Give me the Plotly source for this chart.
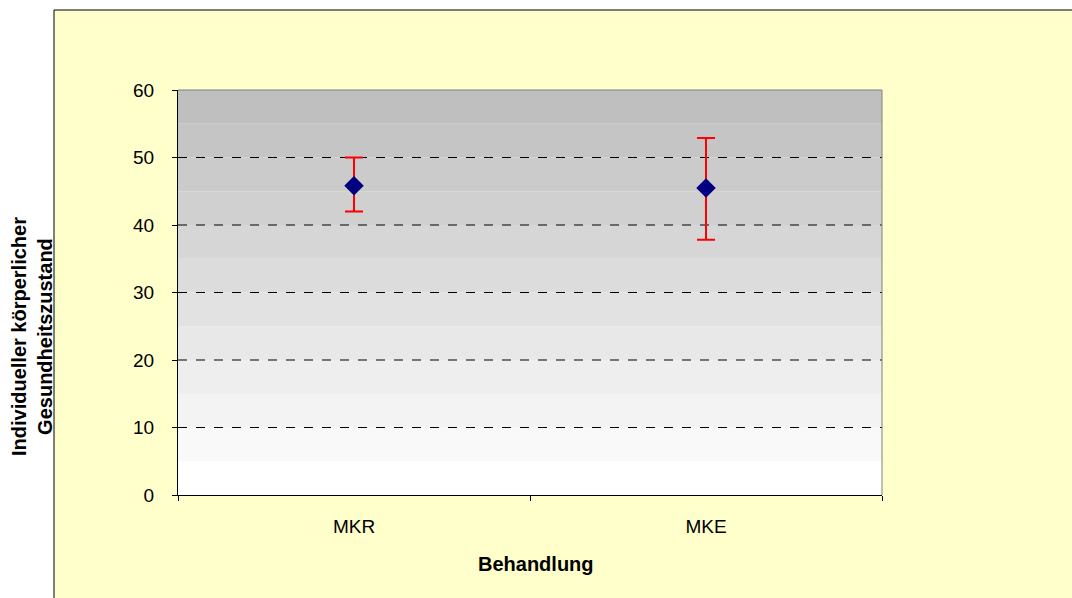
import plotly.graph_objects as go

# Data
categories = ["MKR", "MKE"]
means = [45.8, 45.5]
upper = [50.0, 52.9]
lower = [42.0, 37.8]

y_ticks = [0, 10, 20, 30, 40, 50, 60]

W, H = 1072, 598
L, R, T, B = 178, 882, 90, 495  # plot area in pixels
pw, ph = R - L, B - T
FONT = "Liberation Sans, Arial"

err_plus = [u - m for u, m in zip(upper, means)]
err_minus = [m - l for m, l in zip(means, lower)]

fig = go.Figure()
fig.add_trace(go.Scatter(
    x=categories, y=means, mode="markers",
    marker=dict(symbol="diamond", size=15, color="#000080"),
    error_y=dict(type="data", symmetric=False, array=err_plus, arrayminus=err_minus,
                 color="#ff0000", thickness=2, width=9),
    showlegend=False, hoverinfo="skip",
))

shapes = []
# chart area (yellow) background with border
shapes.append(dict(type="rect", xref="paper", yref="paper", layer="below",
                   x0=(54 - L) / pw, x1=(W + 5 - L) / pw,
                   y0=(B - (H + 5)) / ph, y1=(B - 10) / ph,
                   fillcolor="#ffffcc", line=dict(color="#000000", width=1)))

# banded gray-to-white gradient in the plot area
n_bands = 12
for i in range(n_bands):
    y0 = i / n_bands
    y1 = (i + 1) / n_bands
    g = round(255 - (255 - 191) * i / (n_bands - 1))
    shapes.append(dict(type="rect", xref="x domain", yref="y domain", layer="below",
                       x0=0, x1=1, y0=y0, y1=y1,
                       fillcolor=f"rgb({g},{g},{g})", line=dict(width=0)))

# dashed grid lines
for v in y_ticks[1:-1]:
    shapes.append(dict(type="line", xref="x domain", yref="y", layer="below",
                       x0=0, x1=1, y0=v, y1=v,
                       line=dict(color="#000000", width=1, dash="dash")))

# top and right border of the plot area
shapes.append(dict(type="line", xref="x domain", yref="y domain", x0=0, x1=1, y0=1, y1=1,
                   line=dict(color="#808080", width=1), layer="below"))
shapes.append(dict(type="line", xref="x domain", yref="y domain", x0=1, x1=1, y0=0, y1=1,
                   line=dict(color="#808080", width=1), layer="below"))

annotations = [
    dict(text="<b>Behandlung</b>", xref="paper", yref="paper",
         x=(536 - L) / pw, y=(B - 564) / ph, showarrow=False,
         xanchor="center", yanchor="middle",
         font=dict(family=FONT, size=20, color="#000000")),
    dict(text="<b>Individueller körperlicher<br>Gesundheitszustand</b>", xref="paper", yref="paper",
         x=(32 - L) / pw, y=(B - 337) / ph, showarrow=False, textangle=-90,
         xanchor="center", yanchor="middle",
         font=dict(family=FONT, size=20, color="#000000")),
]

fig.update_layout(
    width=W, height=H,
    margin=dict(l=L, r=W - R, t=T, b=H - B, pad=0),
    paper_bgcolor="#ffffff",
    plot_bgcolor="rgba(0,0,0,0)",
    shapes=shapes,
    annotations=annotations,
    font=dict(family=FONT, size=19, color="#000000"),
    xaxis=dict(type="category", range=[-0.5, 1.5], tickson="boundaries",
               ticks="outside", ticklen=5, tickcolor="#000000",
               showline=True, linecolor="#000000", linewidth=1,
               showgrid=False, zeroline=False,
               tickfont=dict(size=19), ticklabelstandoff=14, fixedrange=True),
    yaxis=dict(range=[0, 60], tickvals=y_ticks, ticks="outside", ticklen=5,
               tickcolor="#000000", showline=True, linecolor="#000000", linewidth=1,
               showgrid=False, zeroline=False, tickfont=dict(size=19),
               ticklabelstandoff=14),
)

fig.write_html("out.html")
